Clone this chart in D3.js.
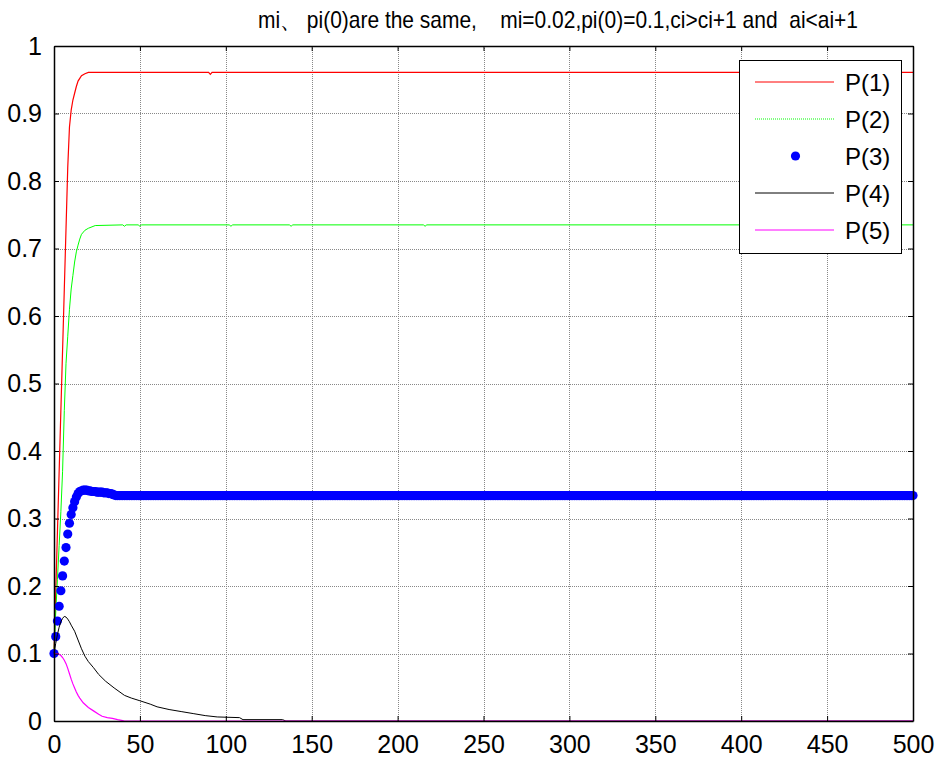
<!DOCTYPE html>
<html>
<head>
<meta charset="utf-8">
<script src="https://cdn.jsdelivr.net/npm/d3@7"></script>
<style>
body{margin:0;background:#fff;}
svg{display:block;}
</style>
</head>
<body>
<svg id="chart"></svg>
<script>
var width=938, height=757;
var margin={left:54, right:25, top:46, bottom:36};

var titleText="mi\u3001 pi(0)are the same,    mi=0.02,pi(0)=0.1,ci>ci+1 and  ai<ai+1";
var xTicks=[0,50,100,150,200,250,300,350,400,450,500];
var yTicks=[0,0.1,0.2,0.3,0.4,0.5,0.6,0.7,0.8,0.9,1];
var legendNames=["P(1)","P(2)","P(3)","P(4)","P(5)"];

// [step, value]
var p1=[[0,0.1],[1,0.19],[2,0.28],[3,0.37],[4,0.46],[5,0.55],[6,0.64],[7,0.73],[8,0.82],[9,0.88],
        [10,0.905],[11,0.92],[12,0.93],[13,0.94],[14,0.948],[15,0.952],[16,0.956],[18,0.959],[20,0.961],
        [90,0.961],[91,0.958],[92,0.961],[500,0.961]];
var p2=[[0,0.1],[1,0.16],[2,0.21],[3,0.26],[4,0.31],[5,0.37],[6,0.46],[7,0.53],[8,0.57],[9,0.61],
        [10,0.64],[11,0.66],[12,0.68],[13,0.695],[14,0.705],[15,0.714],[16,0.721],[18,0.727],[20,0.73],
        [24,0.734],[40,0.735],[41,0.733],[42,0.735],[49,0.735],[50,0.733],[51,0.735],[102,0.735],[103,0.733],
        [104,0.735],[137,0.735],[138,0.733],[139,0.735],[215,0.735],[216,0.733],[217,0.735],[500,0.735]];
// P(3): one value per step for the first steps, then the plateau
var p3Head=[0.1,0.125,0.148,0.17,0.193,0.215,0.237,0.257,0.277,0.293,0.306,0.316,0.325,0.332,0.337,0.34,
            0.341,0.342,0.342,0.342,0.341,0.341,0.34,0.34,0.34,0.339,0.339,0.339,0.339,0.338,0.338,0.338,
            0.337,0.337,0.336,0.335];
var p3Plateau=0.334, p3LastStep=500;
var p4=[[0,0.1],[1,0.115],[2,0.128],[3,0.139],[4,0.147],[5,0.152],[6,0.155],[7,0.154],[8,0.151],[9,0.147],
        [10,0.142],[12,0.133],[14,0.12],[16,0.107],[18,0.096],[20,0.088],[23,0.079],[26,0.069],[30,0.059],
        [35,0.049],[41,0.038],[45,0.034],[50,0.03],[56,0.025],[60,0.021],[67,0.017],[74,0.014],[81,0.011],
        [88,0.008],[95,0.006],[108,0.005],[110,0.002],[133,0.002],[135,0],[500,0]];
var p5=[[0,0.1],[2,0.1],[3,0.099],[4,0.097],[5,0.094],[6,0.09],[7,0.085],[8,0.078],[9,0.07],[10,0.062],
        [11,0.055],[12,0.049],[13,0.043],[14,0.038],[15,0.034],[17,0.027],[20,0.02],[23,0.015],[26,0.01],
        [28,0.007],[31,0.005],[34,0.004],[37,0.002],[40,0.0005],[41,0],[500,0]];

var p3=p3Head.map(function(v,i){return [i,v];});
for(var t=p3Head.length;t<=p3LastStep;t++){p3.push([t,p3Plateau]);}

var svg=d3.select("#chart").attr("width",width).attr("height",height);
svg.append("rect").attr("width",width).attr("height",height).attr("fill","#fff");

var xScale=d3.scaleLinear().domain([0,500]).range([margin.left,width-margin.right]);
var yScale=d3.scaleLinear().domain([0,1]).range([height-margin.bottom,margin.top]);
var x0=xScale.range()[0], x1=xScale.range()[1], y0=yScale.range()[0], y1=yScale.range()[1];

// grid
var grid=svg.append("g").attr("stroke","#888").attr("stroke-width",1).attr("stroke-dasharray","1,1");
grid.selectAll(".gx").data(xTicks.slice(1,-1)).enter().append("line")
    .attr("x1",function(d){return Math.round(xScale(d))+0.5;}).attr("x2",function(d){return Math.round(xScale(d))+0.5;})
    .attr("y1",y1).attr("y2",y0);
grid.selectAll(".gy").data(yTicks.slice(1,-1)).enter().append("line")
    .attr("y1",function(d){return Math.round(yScale(d))+0.5;}).attr("y2",function(d){return Math.round(yScale(d))+0.5;})
    .attr("x1",x0).attr("x2",x1);

// lines
var line=d3.line().x(function(d){return xScale(d[0]);}).y(function(d){return yScale(d[1]);});
svg.append("path").datum(p1).attr("d",line).attr("fill","none").attr("stroke","#ff0000").attr("stroke-width",1.2);
svg.append("path").datum(p2).attr("d",line).attr("fill","none").attr("stroke","#00ff00").attr("stroke-width",1);
svg.append("g").selectAll("circle").data(p3).enter().append("circle")
   .attr("cx",function(d){return xScale(d[0]);}).attr("cy",function(d){return yScale(d[1]);})
   .attr("r",4.6).attr("fill","#0000ff");
svg.append("path").datum(p4).attr("d",line).attr("fill","none").attr("stroke","#000000").attr("stroke-width",1);
svg.append("path").datum(p5).attr("d",line).attr("fill","none").attr("stroke","#ff00ff").attr("stroke-width",1.2);

// axes (ticks inward, on all four sides)
var font="Liberation Sans, Arial, sans-serif";
var xAxis=d3.axisBottom(xScale).tickValues(xTicks).tickSizeInner(-5).tickSizeOuter(0).tickPadding(14);
var yAxis=d3.axisLeft(yScale).tickValues(yTicks).tickSizeInner(-5).tickSizeOuter(0).tickPadding(12)
            .tickFormat(function(d){return d3.format("~g")(d);});
var gx=svg.append("g").attr("transform","translate(0,"+y0+")").call(xAxis);
var gy=svg.append("g").attr("transform","translate("+x0+",0)").call(yAxis);
svg.append("g").attr("transform","translate(0,"+y1+")")
   .call(d3.axisTop(xScale).tickValues(xTicks).tickSizeInner(-5).tickSizeOuter(0).tickFormat(""));
svg.append("g").attr("transform","translate("+x1+",0)")
   .call(d3.axisRight(yScale).tickValues(yTicks).tickSizeInner(-5).tickSizeOuter(0).tickFormat(""));
svg.selectAll(".domain").attr("stroke","#000").attr("stroke-width",1.5);
svg.selectAll(".tick line").attr("stroke","#000");
svg.selectAll(".tick text").attr("font-family",font).attr("font-size",25).attr("fill","#000");

// title (slightly condensed, taller glyphs like the original)
svg.append("text").attr("transform","translate(258,28) scale(1,1.2)").attr("font-family",font)
   .attr("font-size",20).attr("textLength",600).attr("lengthAdjust","spacingAndGlyphs")
   .style("white-space","pre").text(titleText);

// legend
var lg=svg.append("g");
lg.append("rect").attr("x",739.5).attr("y",60.5).attr("width",162).attr("height",193)
  .attr("fill","#fff").attr("stroke","#000").attr("stroke-width",1);
var legendColors=["#ff0000","#00ff00","#0000ff","#000000","#ff00ff"];
var legendY=d3.scalePoint().domain(legendNames).range([82,230]);
legendNames.forEach(function(n,i){
  var yy=legendY(n);
  if(i==2){
    lg.append("circle").attr("cx",795.5).attr("cy",yy).attr("r",4.6).attr("fill",legendColors[i]);
  } else {
    lg.append("line").attr("x1",755).attr("x2",834).attr("y1",yy).attr("y2",yy)
      .attr("stroke",legendColors[i]).attr("stroke-width",1)
      .attr("stroke-dasharray",i==1?"1,1":null);
  }
  lg.append("text").attr("x",845).attr("y",yy).attr("dy","0.36em").attr("font-family",font)
    .attr("font-size",24).text(n);
});
</script>
</body>
</html>
